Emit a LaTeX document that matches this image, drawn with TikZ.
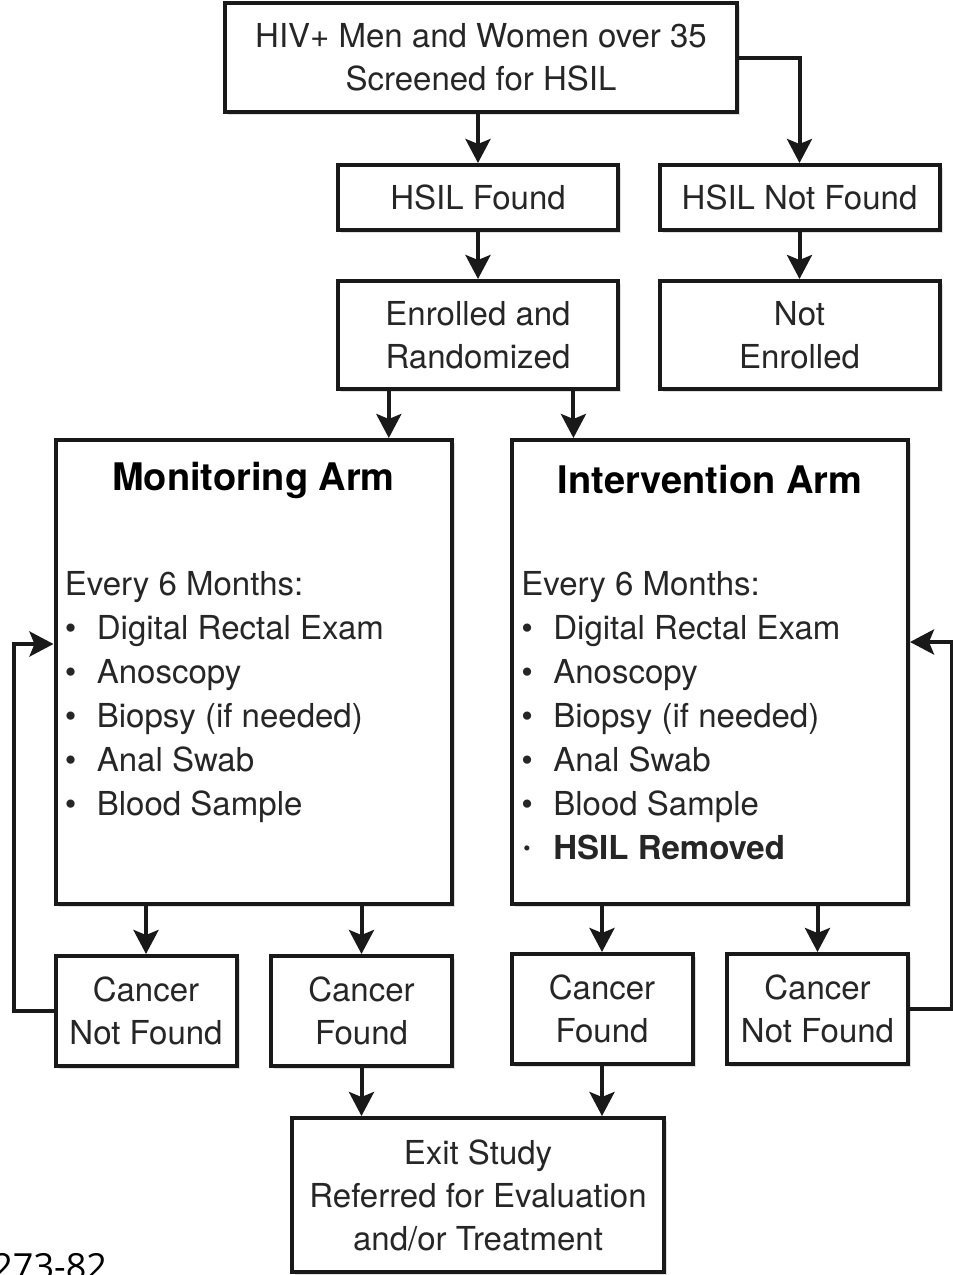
\documentclass[tikz,border=0pt]{standalone}
\usepackage{fontspec}
\setmainfont{TeX Gyre Heros}
\newfontfamily\notefont{Open Sans}
\usetikzlibrary{shapes,arrows.meta,positioning,calc,shadows}
\tikzset{
block/.style = {draw=black!90, line width=2pt, fill=white, rectangle, inner sep=0pt, align=center, text=black!85,
  font=\fontsize{16.5}{21.5}\selectfont, drop shadow={shadow xshift=1.5pt, shadow yshift=-1.5pt, opacity=0.25}},
arm/.style = {block, minimum width=198pt, minimum height=232pt},
small/.style = {block, minimum width=90.5pt, minimum height=55pt},
wide/.style = {block, minimum width=140pt},
armtitle/.style = {inner sep=0pt, font=\fontsize{19}{23}\selectfont\bfseries},
armlist/.style = {anchor=north west, align=left, inner sep=0pt, text=black!85, font=\fontsize{16.5}{22}\selectfont},
tmp/.style = {coordinate},
link/.style = {line width=2pt, draw=black!90}
}
\newcommand{\itm}{\makebox[16pt][l]{\textbullet}}
\newcommand{\dotitm}{\makebox[16pt][l]{\hspace{1pt}\raisebox{0.13em}{\scalebox{0.62}{\textbullet}}}}

\begin{document}
\begin{tikzpicture}[auto, >={Stealth[length=12pt,width=12.5pt,inset=2.5pt]}, x=0.5pt, y=-0.5pt]
\useasboundingbox[fill=white] (0,0) rectangle (953,1275);

% screening and enrolment
\node [block, minimum width=256pt, minimum height=54.5pt] (screen) at (481,57.5) {HIV+ Men and Women over 35\\Screened for HSIL};
\node [wide, minimum height=32.5pt] (found) at (478,197.5) {HSIL Found};
\node [wide, minimum height=32.5pt] (notfound) at (799.5,197.5) {HSIL Not Found};
\node [wide, minimum height=54pt] (enrolled) at (478,335) {Enrolled and\\Randomized};
\node [wide, minimum height=54pt] (notenrolled) at (799.5,335) {Not\\Enrolled};

% the two arms
\node [arm] (mon) at (253.5,672) {};
\node [arm] (int) at (710,672) {};
\node [armtitle] (montitle) at ($(mon.north)+(0,42)$) {Monitoring Arm};
\node [armtitle] (inttitle) at ($(int.north)+(0,42)$) {Intervention Arm};
\node [armlist] (monlist) at ($(mon.north west)+(11,133)$) {Every 6 Months:\\
  \itm Digital Rectal Exam\\ \itm Anoscopy\\ \itm Biopsy (if needed)\\ \itm Anal Swab\\ \itm Blood Sample};
\node [armlist] (intlist) at ($(int.north west)+(11,133)$) {Every 6 Months:\\
  \itm Digital Rectal Exam\\ \itm Anoscopy\\ \itm Biopsy (if needed)\\ \itm Anal Swab\\ \itm Blood Sample\\
  \dotitm\textbf{HSIL Removed}};

% outcomes
\node [small] (cnfmon) at (146,1011) {Cancer\\Not Found};
\node [small] (cfmon) at (361.5,1011) {Cancer\\Found};
\node [small] (cfint) at (602,1009) {Cancer\\Found};
\node [small] (cnfint) at (817.5,1009) {Cancer\\Not Found};
\node [block, minimum width=186pt, minimum height=77pt] (exit) at (478,1195) {Exit Study\\Referred for Evaluation\\and/or Treatment};

\node [anchor=north west, inner sep=0pt, font=\notefont\fontsize{18}{18}\selectfont] (ref) at (-8,1253) {273-82};

\coordinate (split1) at ($(enrolled.south west)!0.186!(enrolled.south east)$);
\coordinate (split2) at ($(enrolled.south west)!0.836!(enrolled.south east)$);
\coordinate (monin) at ($(mon.north west)+(0,206)$);
\coordinate (intin) at ($(int.north east)+(0,204)$);

\draw [->, link] (found.north |- screen.south) -- (found.north);
\draw [->, link] (screen.east) -| (notfound.north);
\draw [->, link] (found) -- (enrolled);
\draw [->, link] (notfound) -- (notenrolled);
\draw [->, link] (split1) -- (split1 |- mon.north);
\draw [->, link] (split2) -- (split2 |- int.north);
\draw [->, link] (cnfmon.north |- mon.south) -- (cnfmon.north);
\draw [->, link] (cfmon.north |- mon.south) -- (cfmon.north);
\draw [->, link] (cfint.north |- int.south) -- (cfint.north);
\draw [->, link] (cnfint.north |- int.south) -- (cnfint.north);
\draw [->, link] (cfmon.south) -- (cfmon.south |- exit.north);
\draw [->, link] (cfint.south) -- (cfint.south |- exit.north);
\draw [->, link] (cnfmon.west) -- ++(-40,0) |- (monin);
\draw [->, link] (cnfint.east) -- ++(42,0) |- (intin);
\end{tikzpicture}
\end{document}
